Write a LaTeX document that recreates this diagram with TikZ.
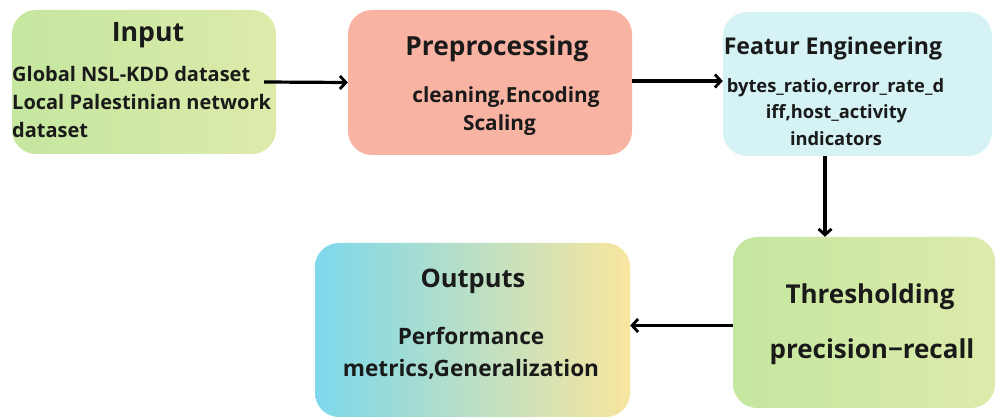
\documentclass[tikz,border=0pt]{standalone}
\usepackage{fontspec}
\setmainfont{Open Sans}
\usetikzlibrary{arrows.meta,calc}
\definecolor{txt}{HTML}{1A1A1A}
\definecolor{greenL}{HTML}{C5E79F}
\definecolor{greenR}{HTML}{DDEBAA}
\definecolor{salmon}{HTML}{F8B3A2}
\definecolor{cyanbg}{HTML}{D5F3F4}
\definecolor{outL}{HTML}{7DD8EC}
\definecolor{outR}{HTML}{F8E69E}
\newcommand{\fs}[1]{\bfseries\fontsize{#1}{#1}\selectfont}
\begin{document}
\begin{tikzpicture}[x=1pt,y=-1pt,
  box/.style={rounded corners=24pt, minimum width=#1, inner sep=0pt},
  lbl/.style={text=txt, inner sep=0pt, anchor=center},
  conn/.style={line width=3.2pt, -{Straight Barb[length=6pt,width=13pt,line width=2.8pt]}}]
\useasboundingbox (0,0) rectangle (996,419);
% boxes
\node[box=264pt, minimum height=144pt, left color=greenL, right color=greenR] (inp) at (144,82) {};
\node[box=284pt, minimum height=145pt, fill=salmon] (pre) at (490,82.5) {};
\node[box=269pt, minimum height=144pt, fill=cyanbg] (fe) at (857.5,84) {};
\node[box=262pt, minimum height=171pt, left color=greenL, right color=greenR] (thr) at (864,322.5) {};
\node[box=315pt, minimum height=174pt, left color=outL, right color=outR] (out) at (472.5,330) {};
% texts
\node[lbl, font=\fs{26.7}] (tinp) at (148,35) {Input};
\node[lbl, font=\fs{20}, anchor=west] (binp1) at (12,74) {Global NSL-KDD dataset};
\node[lbl, font=\fs{20}, anchor=west] (binp2) at (12,102) {Local Palestinian network};
\node[lbl, font=\fs{20}, anchor=west] (binp3) at (12,130) {dataset};
\node[lbl, font=\fs{26.3}] (tpre) at (497,49) {Preprocessing};
\node[lbl, font=\fs{20.8}] (bpre1) at (506,97) {cleaning,Encoding};
\node[lbl, font=\fs{20.8}] (bpre2) at (499.5,125) {Scaling};
\node[lbl, font=\fs{23.1}] (tfe) at (833,49) {Featur Engineering};
\node[lbl, font=\fs{18.3}] (bfe1) at (835.5,88) {bytes\_ratio,error\_rate\_d};
\node[lbl, font=\fs{18.3}] (bfe2) at (836.5,114) {iff,host\_activity};
\node[lbl, font=\fs{18.3}] (bfe3) at (836,139) {indicators};
\node[lbl, font=\fs{25.5}] (tout) at (473,281) {Outputs};
\node[lbl, font=\fs{22.6}] (bout1) at (471,336) {Performance};
\node[lbl, font=\fs{22.6}] (bout2) at (471,369) {metrics,Generalization};
\node[lbl, font=\fs{26}] (tthr) at (870,297) {Thresholding};
\node[lbl, font=\fs{26}] (bthr) at (872,352) {precision−recall};
% connectors
\draw[conn] ([xshift=-12pt]inp.east) -- (pre.west);
\draw[conn] ([yshift=1.5pt]pre.east) -- ([yshift=1.5pt]pre.east -| fe.west);
\draw[conn] ([xshift=-32.5pt]fe.south) -- ([xshift=-32.5pt]fe.south |- thr.north);
\draw[conn] ([yshift=-3pt]thr.west) -- ([yshift=-3pt]thr.west -| out.east);
\end{tikzpicture}
\end{document}
